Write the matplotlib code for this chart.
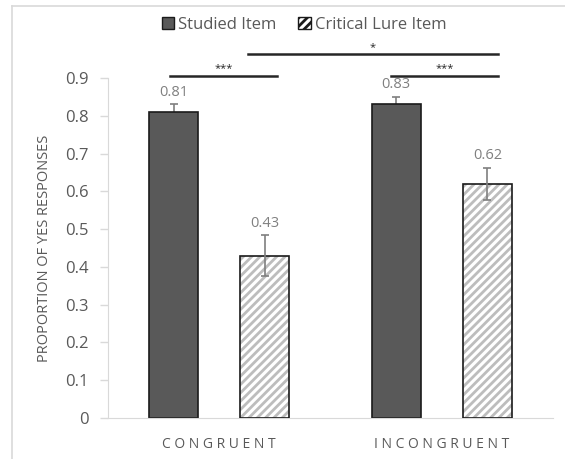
import numpy as np
import matplotlib
matplotlib.use("Agg")
import matplotlib.pyplot as plt
from matplotlib.patches import Patch
from matplotlib.lines import Line2D

# Données
categories = ["C O N G R U E N T", "I N C O N G R U E N T"]
studied = [0.81, 0.83]
studied_err = [0.02, 0.02]
lure = [0.43, 0.62]
lure_err = [0.054, 0.043]
yticks = [0, 0.1, 0.2, 0.3, 0.4, 0.5, 0.6, 0.7, 0.8, 0.9]

plt.rcParams["font.family"] = ["Open Sans", "DejaVu Sans"]
plt.rcParams["hatch.linewidth"] = 2.0

fig = plt.figure(figsize=(5.65, 4.59), dpi=100)
ax = fig.add_axes([108 / 565, 41 / 459, 445 / 565, 340 / 459])

x = np.arange(len(categories))
w = 0.22
off = 0.205

# Barres "Studied Item" (barre d'erreur dessinée dessous)
ax.errorbar(x - off, studied, yerr=studied_err, fmt="none", ecolor="#7f7f7f",
            elinewidth=1.2, capsize=3, capthick=1.2, zorder=1)
ax.bar(x - off, studied, w, color="#595959", edgecolor="#1a1a1a", linewidth=1.2, zorder=2)
# Barres "Critical Lure Item" : hachures grises puis contour noir
ax.bar(x + off, lure, w, color="white", edgecolor="#bdbdbd", hatch="////", linewidth=0, zorder=2)
ax.bar(x + off, lure, w, fill=False, edgecolor="#1a1a1a", linewidth=1.2, zorder=3)
ax.errorbar(x + off, lure, yerr=lure_err, fmt="none", ecolor="#7f7f7f",
            elinewidth=1.2, capsize=3, capthick=1.2, zorder=4)

for xi, v, e in zip(x - off, studied, studied_err):
    ax.text(xi, v + e + 0.012, f"{v:.2f}", ha="center", va="bottom", color="#808080", fontsize=10.5)
for xi, v, e in zip(x + off, lure, lure_err):
    ax.text(xi, v + e + 0.012, f"{v:.2f}", ha="center", va="bottom", color="#808080", fontsize=10.5)

# Lignes de significativité
sig = [(-0.22, 0.26, 0.905, "***"), (0.772, 1.253, 0.905, "***"), (0.129, 1.253, 0.963, "*")]
for x0, x1, yy, s in sig:
    ax.plot([x0, x1], [yy, yy], color="#262626", linewidth=1.8, clip_on=False, zorder=5)
    ax.text((x0 + x1) / 2, yy + 0.004, s, ha="center", va="bottom", fontsize=8, color="#262626")

ax.set_xlim(-0.5, 1.5)
ax.set_ylim(0, 0.9)
ax.set_yticks(yticks)
ax.set_yticklabels(["0"] + [f"{t:.1f}" for t in yticks[1:]])
ax.set_xticks(x)
ax.set_xticklabels(categories)
ax.tick_params(axis="y", colors="#d9d9d9", labelcolor="#595959", labelsize=12,
               length=6, width=1, pad=8)
ax.tick_params(axis="x", length=0, labelcolor="#595959", labelsize=10, pad=14)
for side in ["top", "right"]:
    ax.spines[side].set_visible(False)
ax.spines["left"].set_color("#d9d9d9")
ax.spines["bottom"].set_color("#d9d9d9")
ax.set_ylabel("PROPORTION OF YES RESPONSES", color="#595959", fontsize=10.5, labelpad=9)

handles = [Patch(facecolor="#595959", edgecolor="#1a1a1a", linewidth=1),
           Patch(facecolor="white", edgecolor="#1a1a1a", hatch="////", linewidth=1)]
fig.legend(handles, ["Studied Item", "Critical Lure Item"], loc="center",
           bbox_to_anchor=(304 / 565, 1 - 25 / 459), ncol=2, frameon=False,
           fontsize=12, handlelength=0.75, handleheight=0.75, handletextpad=0.25,
           columnspacing=1.3, labelcolor="#595959")

# Cadre du graphique (haut et gauche)
fig.add_artist(Line2D([12 / 565, 1], [1 - 6 / 459, 1 - 6 / 459], color="#d9d9d9", linewidth=1.2))
fig.add_artist(Line2D([12 / 565, 12 / 565], [0, 1 - 6 / 459], color="#d9d9d9", linewidth=1.2))

fig.savefig("out.png", dpi=100)
